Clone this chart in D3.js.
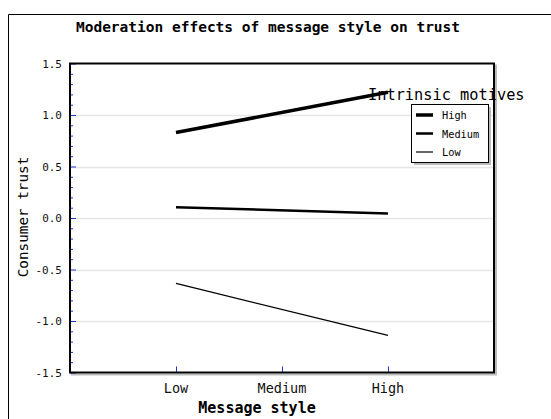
<!DOCTYPE html>
<html><head><meta charset="utf-8">
<script src="https://cdn.jsdelivr.net/npm/d3@7"></script>
<style>body{margin:0;background:#fff}svg{display:block}</style>
</head><body><svg id="c" width="551" height="419"></svg>
<script>
const categories = ["Low", "Medium", "High"];
const seriesNames = ["High", "Medium", "Low"];
const highValues = [0.83, 1.22];
const mediumValues = [0.105, 0.043];
const lowValues = [-0.635, -1.14];
const yTicks = [-1.5, -1.0, -0.5, 0.0, 0.5, 1.0, 1.5];
const seriesWidths = [3.5, 2.5, 1.2];

const svg = d3.select("#c");
const L = 70, R = 494, T = 63.5, B = 372.5;
const x = d3.scaleLinear().domain([0, 4]).range([L, R]);
const y = d3.scaleLinear().domain([-1.5, 1.5]).range([B, T]);
const mono = "'DejaVu Sans Mono', monospace";

// outer frame
svg.append("path").attr("d", "M8.5,430 V14.5 H560").attr("fill","none").attr("stroke","#000");

// title
svg.append("text").attr("x", 268).attr("y", 32).attr("text-anchor","middle")
  .attr("font-family", mono).attr("font-weight","bold").attr("font-size", 14.5)
  .text("Moderation effects of message style on trust");

// plot shadow
svg.append("rect").attr("x", L+2).attr("y", T+2).attr("width", R-L).attr("height", B-T)
  .attr("fill","none").attr("stroke","#bbb").attr("stroke-width",2);
svg.append("rect").attr("x", L).attr("y", T).attr("width", R-L).attr("height", B-T).attr("fill","#fff");

// gridlines
svg.append("g").selectAll("line").data(yTicks.slice(1,-1)).join("line")
  .attr("x1", L).attr("x2", R).attr("y1", d=>Math.round(y(d))+0.5).attr("y2", d=>Math.round(y(d))+0.5)
  .attr("stroke","#e6e6e6").attr("stroke-width",1.5);

// y axis ticks (inside, blue)
const yAxis = d3.axisRight(y).tickValues(yTicks).tickSize(6).tickFormat("");
const gy = svg.append("g").attr("transform", `translate(${L},0)`).call(yAxis);
gy.select(".domain").remove();
gy.selectAll("line").attr("stroke","#2233dd");
const minor = d3.range(-1.4, 1.5, 0.1).map(v=>+v.toFixed(1)).filter(v=>Math.abs(v*2-Math.round(v*2))>1e-6);
const gym = svg.append("g").attr("transform", `translate(${L},0)`).call(d3.axisRight(y).tickValues(minor).tickSize(3).tickFormat(""));
gym.select(".domain").remove();
gym.selectAll("line").attr("stroke","#2233dd");
svg.append("g").selectAll("text").data(yTicks).join("text")
  .attr("x", 62).attr("y", d=>y(d)+4).attr("text-anchor","end")
  .attr("font-family", mono).attr("font-size", 11).attr("fill","#111")
  .text(d=>d3.format(".1f")(d).replace("−","-"));

// x axis ticks
const xAxis = d3.axisTop(x).tickValues([1,2,3]).tickSize(6).tickFormat("");
const gx = svg.append("g").attr("transform", `translate(0,${B})`).call(xAxis);
gx.select(".domain").remove();
gx.selectAll("line").attr("stroke","#2233dd");
svg.append("g").selectAll("text").data(categories).join("text")
  .attr("x", (d,i)=>x(i+1)).attr("y", 393).attr("text-anchor","middle")
  .attr("font-family", mono).attr("font-size", 13.5).attr("fill","#111").text(d=>d);

// axis titles
svg.append("text").attr("x", 257).attr("y", 413).attr("text-anchor","middle")
  .attr("font-family", mono).attr("font-weight","bold").attr("font-size", 15).text("Message style");
svg.append("text").attr("transform","translate(28,217) rotate(-90)").attr("text-anchor","middle")
  .attr("font-family", mono).attr("font-size", 14.3).text("Consumer trust");

// plot border
svg.append("rect").attr("x", L).attr("y", T).attr("width", R-L).attr("height", B-T)
  .attr("fill","none").attr("stroke","#000").attr("stroke-width",2);

// legend title
svg.append("text").attr("x", 368).attr("y", 100).attr("font-family", mono).attr("font-size", 15.3)
  .text("Intrinsic motives");

// lines
const series = [highValues, mediumValues, lowValues];
const line = d3.line().x((d,i)=>x(i===0?1:3)).y(d=>y(d));
svg.append("g").selectAll("path").data(series).join("path")
  .attr("d", d=>line(d)).attr("fill","none").attr("stroke","#000")
  .attr("stroke-width", (d,i)=>seriesWidths[i]);

// legend box
const lx = 411, ly = 104, lw = 77, lh = 58;
svg.append("rect").attr("x", lx+3).attr("y", ly+3).attr("width", lw).attr("height", lh).attr("fill","#bbb");
svg.append("rect").attr("x", lx+0.5).attr("y", ly+0.5).attr("width", lw).attr("height", lh).attr("fill","#fff").attr("stroke","#000");
const lg = svg.append("g").selectAll("g").data(seriesNames).join("g")
  .attr("transform", (d,i)=>`translate(${lx},${ly+11+i*18.5})`);
lg.append("line").attr("x1",5).attr("x2",22).attr("stroke","#000").attr("stroke-width",(d,i)=>seriesWidths[i]);
lg.append("text").attr("x",31).attr("y",4).attr("font-family", mono).attr("font-size",10.3).text(d=>d);
</script></body></html>
